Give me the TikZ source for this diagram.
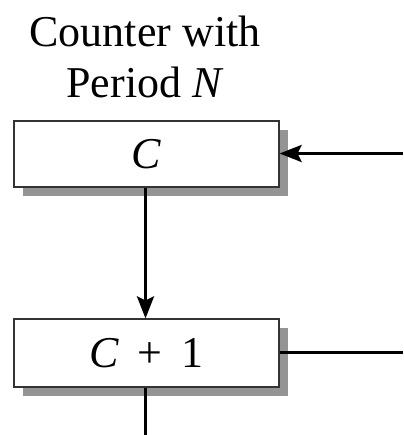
\documentclass[tikz,border=0pt]{standalone}
\usepackage{fontspec}
\setmainfont{Liberation Serif}
\usetikzlibrary{shadows,arrows.meta}
\tikzset{
  stagebox/.style={draw=black!80, line width=1.2pt, fill=white,
    minimum width=265pt, minimum height=66pt, inner sep=0pt,
    drop shadow={shadow xshift=9pt, shadow yshift=-9pt, fill=black!42, opacity=1}},
  flow/.style={line width=3.2pt, line cap=butt},
  flowtip/.style={flow, -{Stealth[length=22pt, width=17pt, inset=4pt]}}
}
\begin{document}
\begin{tikzpicture}[x=1pt, y=-1pt, font=\fontsize{44}{51}\selectfont]
  \useasboundingbox (0,0) rectangle (403,435);
  % title
  \node[align=center, anchor=north, inner sep=0pt] (title) at (145,16) {Counter with\\Period \textit{N}};
  % counter stages
  \node[stagebox] (cnt) at (146.5,154) {\textit{C}};
  \node[stagebox, minimum height=68pt] (inc) at (146.5,353) {\textit{C}\, + \,1};
  % free ends at the border
  \coordinate (feed) at (403,153.5);
  \coordinate (back) at (403,352.5);
  \coordinate (down) at (145.5,435);
  \draw[flowtip] (feed) -- (cnt.east |- feed);
  \draw[flowtip] (cnt.south -| down) -- (inc.north -| down);
  \draw[flow] (inc.east |- back) -- (back);
  \draw[flow] (inc.south -| down) -- (down);
\end{tikzpicture}
\end{document}
